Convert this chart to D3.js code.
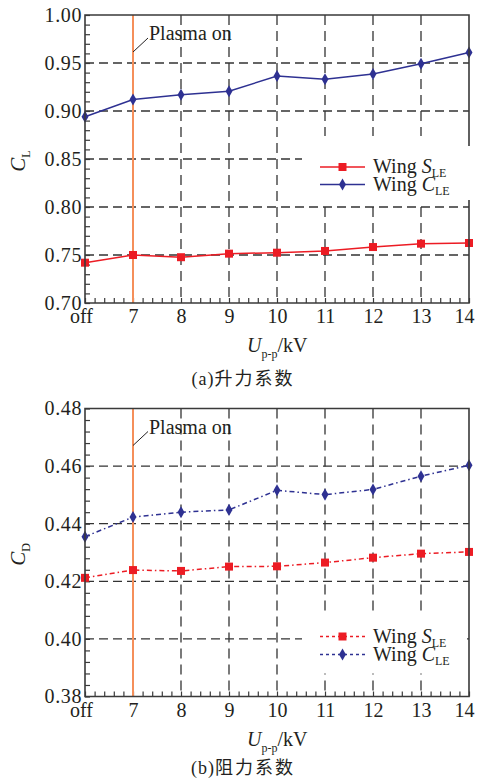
<!DOCTYPE html>
<html>
<head>
<meta charset="utf-8">
<script src="https://cdn.jsdelivr.net/npm/d3@7"></script>
<style>
  body { margin: 0; background: #fff; }
  text { font-family: "Liberation Serif", "Times New Roman", serif; fill: #231f20; }
  .cjk { font-family: "Noto Sans CJK SC", sans-serif; }
</style>
</head>
<body>
<div id="chart"></div>
<script>
// voltage categories (x axis)
const categories = ["off", "7", "8", "9", "10", "11", "12", "13", "14"];

// lift coefficient
const clWingS = [0.742, 0.750, 0.7477, 0.7514, 0.7524, 0.7542, 0.7583, 0.7618, 0.7625];
const clWingC = [0.894, 0.912, 0.917, 0.9205, 0.9365, 0.933, 0.9385, 0.9493, 0.961];
const clTicks = [0.70, 0.75, 0.80, 0.85, 0.90, 0.95, 1.00];

// drag coefficient
const cdWingS = [0.4212, 0.4239, 0.4236, 0.4251, 0.4252, 0.4265, 0.4282, 0.4296, 0.4302];
const cdWingC = [0.4355, 0.4423, 0.4440, 0.4448, 0.4516, 0.4501, 0.4519, 0.4565, 0.4603];
const cdTicks = [0.38, 0.40, 0.42, 0.44, 0.46, 0.48];

const W = 477, H = 782;
const red = "#ec1c24", blue = "#2e3192", orange = "#f58f5a", axisCol = "#3a3a3a";

const svg = d3.select("#chart").append("svg")
    .attr("width", W)
    .attr("height", H);

function drawPanel(cfg) {
  const left = 85, width = 384, height = 288, top = cfg.top;
  const g = svg.append("g").attr("transform", "translate(" + left + "," + top + ")");

  const x = d3.scalePoint().domain(categories).range([0, width]);
  const xi = d3.scaleLinear().domain([0, categories.length - 1]).range([0, width]);
  const y = d3.scaleLinear().domain([cfg.ticks[0], cfg.ticks[cfg.ticks.length - 1]]).range([height, 0]);

  // dashed grid
  g.append("g").selectAll("line").data(cfg.ticks.slice(1, -1)).enter().append("line")
      .attr("x1", 0).attr("x2", width)
      .attr("y1", d => y(d)).attr("y2", d => y(d))
      .attr("stroke", "#333").attr("stroke-width", 1.3).attr("stroke-dasharray", "9,5");
  g.append("g").selectAll("line").data(categories.slice(1, -1)).enter().append("line")
      .attr("x1", d => x(d)).attr("x2", d => x(d))
      .attr("y1", 0).attr("y2", height)
      .attr("stroke", "#333").attr("stroke-width", 1.3).attr("stroke-dasharray", "10,6");

  // minor ticks (inward)
  const step = cfg.minor;
  const minorY = d3.range(cfg.ticks[0], cfg.ticks[cfg.ticks.length - 1] + step / 2, step);
  g.append("g")
      .call(d3.axisLeft(y).tickValues(minorY).tickSize(-5).tickFormat(""))
      .call(a => a.select(".domain").remove())
      .selectAll("line").attr("stroke", axisCol).attr("stroke-width", 1.2);
  g.append("g")
      .attr("transform", "translate(0," + height + ")")
      .call(d3.axisBottom(xi).tickValues(d3.range(0, categories.length - 1 + 0.01, 0.2)).tickSize(-5).tickFormat(""))
      .call(a => a.select(".domain").remove())
      .selectAll("line").attr("stroke", axisCol).attr("stroke-width", 1.2);

  // tick labels
  g.append("g")
      .call(d3.axisLeft(y).tickValues(cfg.ticks).tickSize(0).tickPadding(3).tickFormat(d3.format(".2f")))
      .call(a => a.select(".domain").remove())
      .selectAll("text")
        .style("font-size", "20px").style("letter-spacing", "0.6px")
        .attr("fill", "#231f20");
  g.append("g")
      .attr("transform", "translate(0," + height + ")")
      .call(d3.axisBottom(x).tickSize(0).tickPadding(6))
      .call(a => a.select(".domain").remove())
      .selectAll("text")
        .style("font-size", "20px")
        .attr("fill", "#231f20")
        .attr("dx", d => d === "off" ? "-4px" : (d === "14" ? "-5px" : 0));

  // plasma on marker
  g.append("line")
      .attr("x1", x("7")).attr("x2", x("7"))
      .attr("y1", 0).attr("y2", height)
      .attr("stroke", orange).attr("stroke-width", 2);
  g.append("line")
      .attr("x1", x("7")).attr("y1", 37)
      .attr("x2", x("7") + 15).attr("y2", 23)
      .attr("stroke", "#231f20").attr("stroke-width", 1);
  g.append("text")
      .attr("x", x("7") + 16).attr("y", 25)
      .style("font-size", "20px")
      .text("Plasma on");

  // series
  const line = d3.line().x((d, i) => x(categories[i])).y(d => y(d));
  const series = [
    {name: "S", vals: cfg.s, color: red, shape: d3.symbolSquare, size: 64},
    {name: "C", vals: cfg.c, color: blue, shape: d3.symbolDiamond, size: 42}
  ];
  series.forEach(s => {
    g.append("path")
        .datum(s.vals)
        .attr("fill", "none")
        .attr("stroke", s.color)
        .attr("stroke-width", 1.5)
        .attr("stroke-dasharray", cfg.dash)
        .attr("d", line);
    g.selectAll(".pt" + s.name)
        .data(s.vals)
        .enter().append("path")
        .attr("transform", (d, i) => "translate(" + x(categories[i]) + "," + y(d) + ")")
        .attr("d", d3.symbol().type(s.shape).size(s.size))
        .attr("fill", s.color);
  });

  // legend (white box over the grid)
  const lg = cfg.legend;
  g.append("rect")
      .attr("x", lg.boxX).attr("y", lg.boxY)
      .attr("width", lg.boxW).attr("height", lg.boxH)
      .attr("fill", "#fff");
  series.forEach((s, k) => {
    const ly = lg.y + k * lg.gap;
    g.append("line")
        .attr("x1", lg.x).attr("x2", lg.x + 45)
        .attr("y1", ly).attr("y2", ly)
        .attr("stroke", s.color).attr("stroke-width", 1.5)
        .attr("stroke-dasharray", lg.dash);
    g.append("path")
        .attr("transform", "translate(" + (lg.x + 22.5) + "," + ly + ")")
        .attr("d", d3.symbol().type(s.shape).size(s.size))
        .attr("fill", s.color);
    const t = g.append("text")
        .attr("x", lg.x + 53).attr("y", ly + 6)
        .style("font-size", "20px");
    t.append("tspan").text("Wing ");
    t.append("tspan").style("font-style", "italic").text(s.name);
    t.append("tspan").attr("dy", 4).style("font-size", "12px").text("LE");
  });

  // frame
  g.append("path")
      .attr("d", "M0,0H" + width + "V" + height + "H0Z")
      .attr("fill", "none").attr("stroke", axisCol).attr("stroke-width", 1.6);
  if (cfg.coverFrame) {
    g.append("rect")
        .attr("x", width - 2).attr("y", lg.boxY + 10)
        .attr("width", 6).attr("height", lg.boxH - 12)
        .attr("fill", "#fff");
  }

  // y title
  const yt = g.append("text")
      .attr("transform", "translate(" + (-60) + "," + (height / 2 + 2) + ") rotate(-90)")
      .attr("text-anchor", "middle")
      .style("font-size", "21px");
  yt.append("tspan").style("font-style", "italic").text("C");
  yt.append("tspan").attr("dy", 5).style("font-size", "12px").text(cfg.sub);

  // x title
  const xt = g.append("text")
      .attr("x", 162).attr("y", height + 49)
      .style("font-size", "20px");
  xt.append("tspan").style("font-style", "italic").text("U");
  xt.append("tspan").attr("dy", 6).style("font-size", "12px").text("p-p");
  xt.append("tspan").attr("dy", -6).text("/kV");

  // caption
  const cap = svg.append("text")
      .attr("x", 243).attr("y", top + height + cfg.capDy)
      .attr("text-anchor", "middle")
      .style("font-size", "18px");
  cap.append("tspan").style("letter-spacing", "1px").text(cfg.capTag);
  cap.append("tspan").attr("class", "cjk").style("letter-spacing", "2px").text(cfg.caption);
}

drawPanel({
  top: 15, ticks: clTicks, minor: 0.01, s: clWingS, c: clWingC,
  dash: null, sub: "L", capTag: "(a)", caption: "升力系数", capDy: 82, coverFrame: true,
  legend: {x: 235, y: 152, gap: 17.5, dash: null, boxX: 217, boxY: 121, boxW: 170, boxH: 66}
});

drawPanel({
  top: 408.5, ticks: cdTicks, minor: 0.004, s: cdWingS, c: cdWingC,
  dash: "5,3,1.5,3", sub: "D", capTag: "(b)", caption: "阻力系数", capDy: 77, coverFrame: false,
  legend: {x: 235, y: 228, gap: 18, dash: "3,3", boxX: 217, boxY: 203, boxW: 165, boxH: 62}
});
</script>
</body>
</html>
